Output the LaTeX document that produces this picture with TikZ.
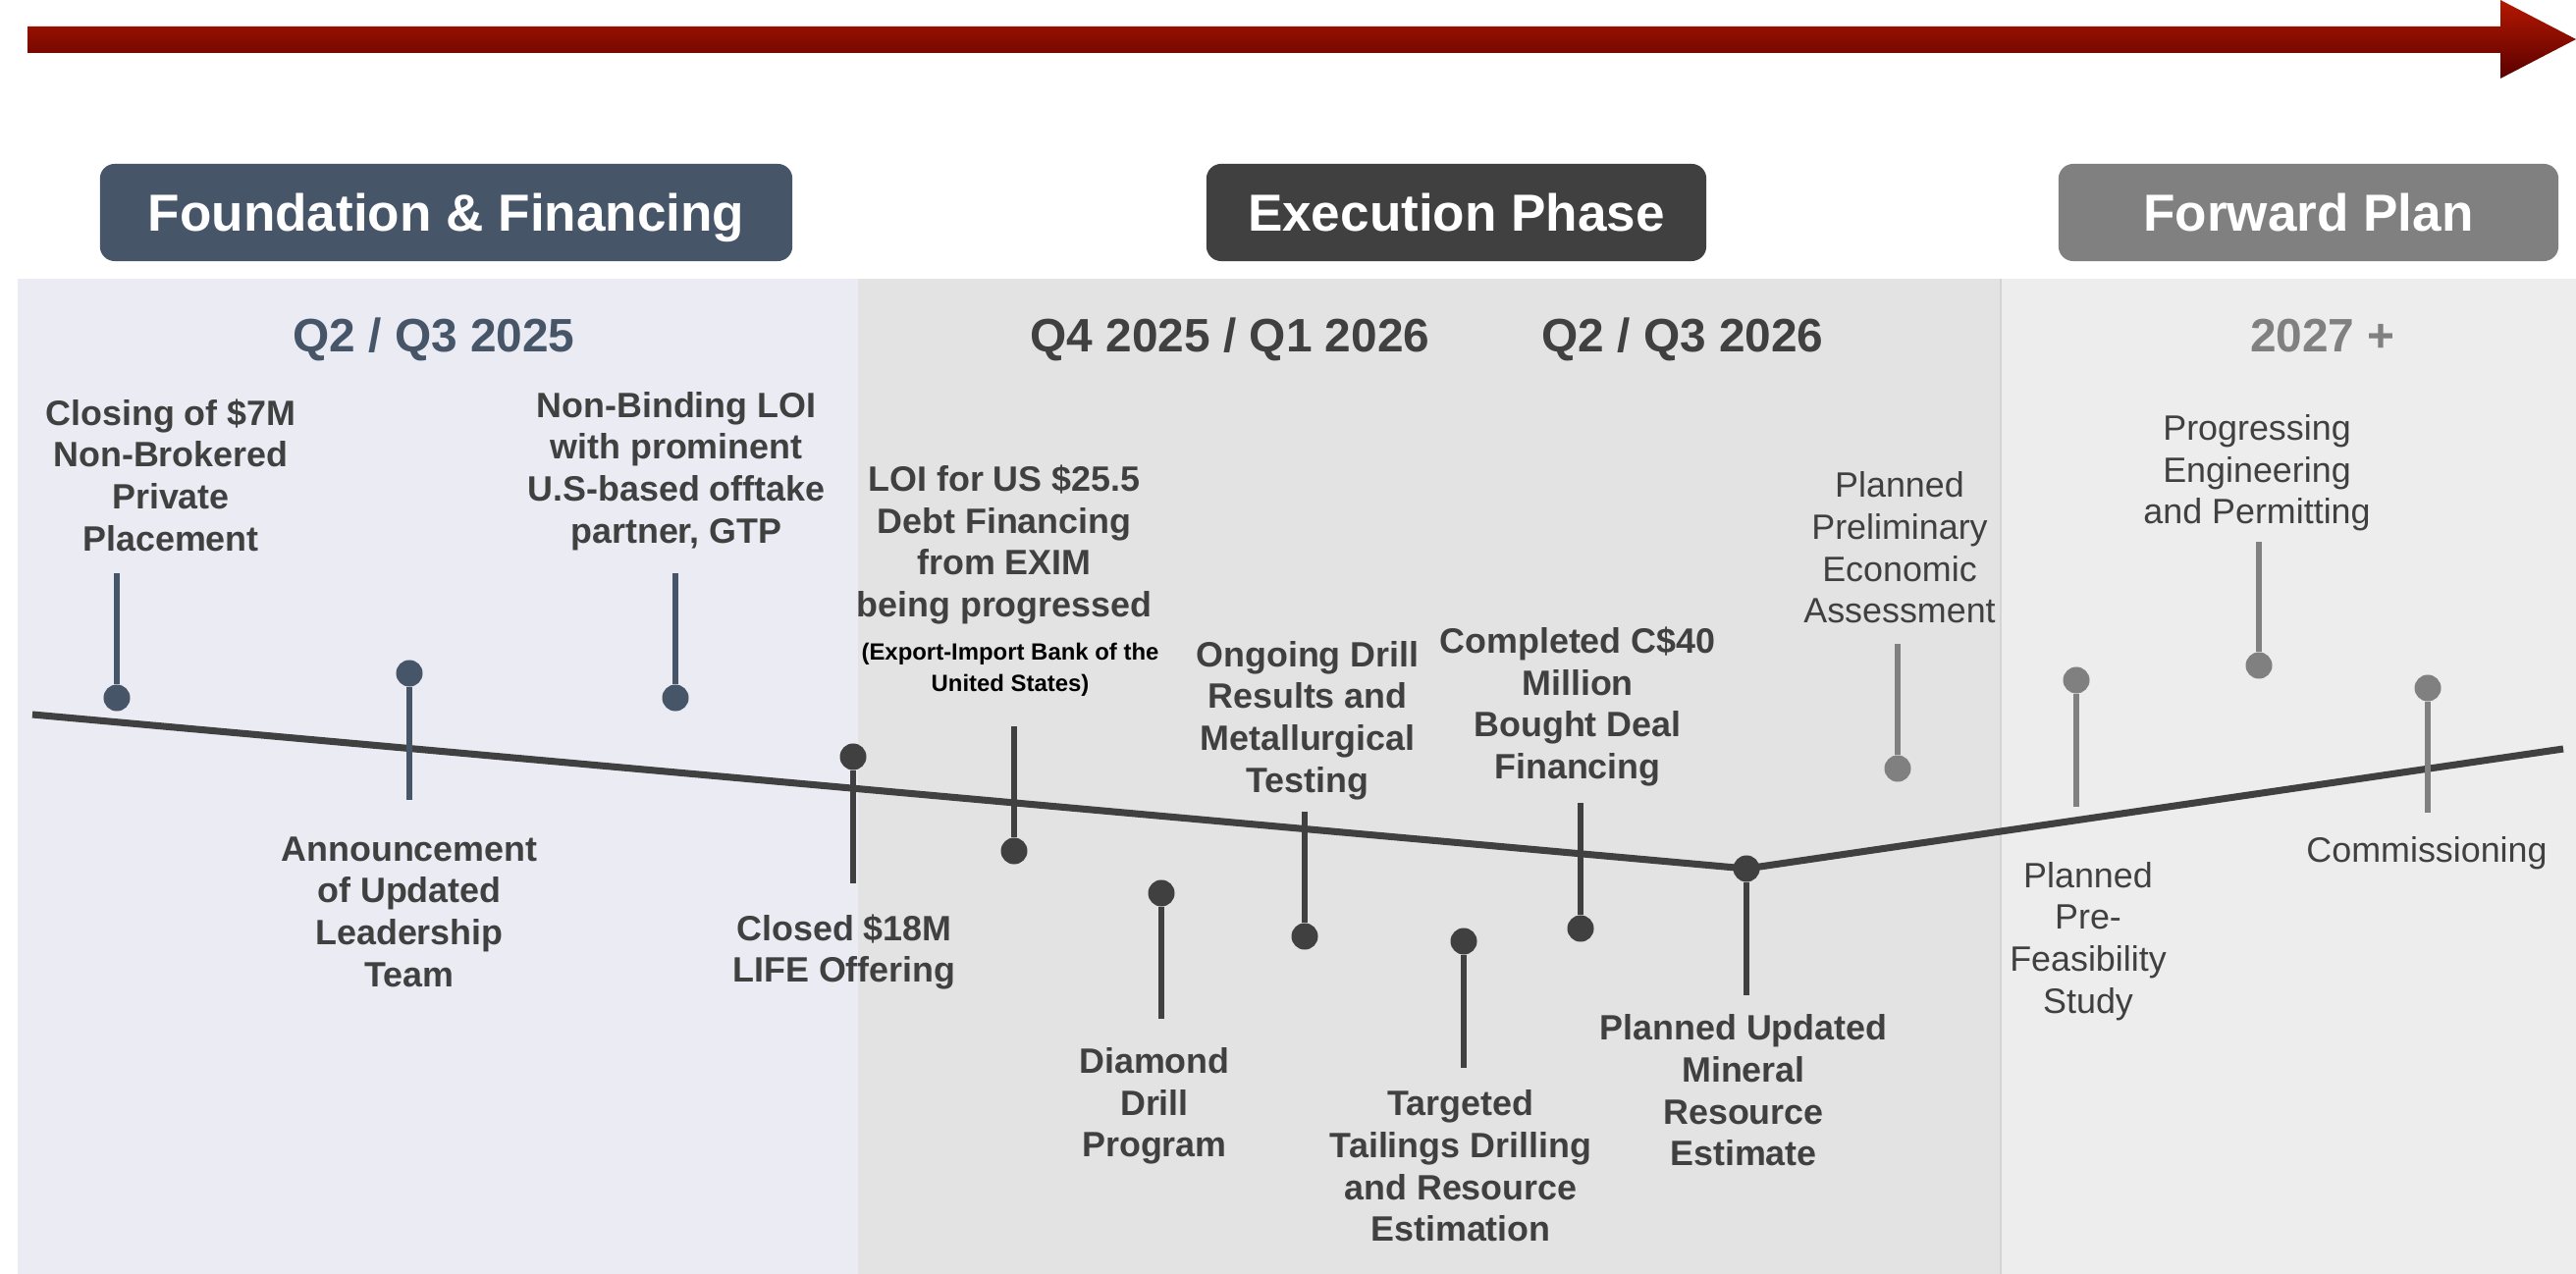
\documentclass[tikz,border=0pt]{standalone}
\usepackage{fontspec}
\setmainfont{Liberation Sans}
\definecolor{slate}{HTML}{475569}
\definecolor{darkgrey}{HTML}{404040}
\definecolor{midgrey}{HTML}{808080}
\definecolor{panelA}{HTML}{EBEBF4}
\definecolor{panelB}{HTML}{E3E3E3}
\definecolor{panelC}{HTML}{EDEDED}
\definecolor{arrowtop}{HTML}{B41800}
\definecolor{arrowbot}{HTML}{5A0000}

\tikzset{
  phase/.style={fill=#1, rounded corners=0.15cm, text=white, minimum height=0.99cm, text height=10.8pt, text depth=0pt, font=\fontsize{15.1}{18}\selectfont\bfseries},
  period/.style={text=#1, text height=9.8pt, text depth=0pt, font=\fontsize{13.6}{16}\selectfont\bfseries},
  evdot/.style={circle, fill=#1, inner sep=0pt, minimum size=0.27cm},
  evstem/.style={draw=#1, line width=1.45pt},
  evtext/.style={align=center, inner sep=0pt, text=darkgrey, font=\fontsize{10.2}{12.15}\selectfont\bfseries},
  evplan/.style={evtext, font=\fontsize{10.2}{12.15}\selectfont},
  evsmall/.style={align=center, inner sep=0pt, text=black, font=\fontsize{6.8}{9.1}\selectfont\bfseries},
}

\begin{document}
\begin{tikzpicture}[x=0.01cm, y=-0.01cm]
    \useasboundingbox (0,0) rectangle (2624,1298);

    \shade[top color=arrowtop, bottom color=arrowbot] (28,27) -- (2547,27) -- (2547,0) -- (2624,40) -- (2547,80) -- (2547,54) -- (28,54) -- cycle;

    \fill[panelA] (18,284) rectangle (874,1298);
    \fill[panelB] (874,284) rectangle (2038,1298);
    \fill[panelC] (2038,284) rectangle (2624,1298);
    \draw[black!17, line width=0.6pt] (2038,284) -- (2038,1298);

    \node[phase=slate, minimum width=7.05cm] (ph_found) at (454.5,216.5) {Foundation \& Financing};
    \node[phase=darkgrey, minimum width=5.09cm] (ph_exec) at (1483.5,216.5) {Execution Phase};
    \node[phase=midgrey, minimum width=5.09cm] (ph_fwd) at (2351.5,216.5) {Forward Plan};

    \node[period=slate] (q_2025) at (442,341) {Q2 / Q3 2025};
    \node[period=darkgrey] (q_2026a) at (1253,341) {Q4 2025 / Q1 2026};
    \node[period=darkgrey] (q_2026b) at (1714,341) {Q2 / Q3 2026};
    \node[period=midgrey] (q_2027) at (2366,341) {2027 +};

    \coordinate (t_start) at (33,728);
    \coordinate (t_turn) at (1779,885);
    \coordinate (t_end) at (2611,763);
    \draw[darkgrey, line width=2pt] (t_start) -- (t_turn) -- (t_end);

    \node[evdot=slate] (d_close) at (119,711) {};
    \node[evdot=slate] (d_lead) at (417,686) {};
    \node[evdot=slate] (d_gtp) at (688,711) {};
    \node[evdot=darkgrey] (d_life) at (869,771) {};
    \node[evdot=darkgrey] (d_exim) at (1033,867) {};
    \node[evdot=darkgrey] (d_drill) at (1183,910) {};
    \node[evdot=darkgrey] (d_met) at (1329,954) {};
    \node[evdot=darkgrey] (d_tail) at (1491,959) {};
    \node[evdot=darkgrey] (d_deal) at (1610,946) {};
    \node[evdot=darkgrey] (d_mre) at (t_turn) {};
    \node[evdot=midgrey] (d_pea) at (1933,783) {};
    \node[evdot=midgrey] (d_pfs) at (2115,693) {};
    \node[evdot=midgrey] (d_eng) at (2301,678) {};
    \node[evdot=midgrey] (d_com) at (2473,701) {};

    \coordinate (s_close) at (119,584);
    \coordinate (s_lead) at (417,815);
    \coordinate (s_gtp) at (688,584);
    \coordinate (s_life) at (869,900);
    \coordinate (s_exim) at (1033,740);
    \coordinate (s_drill) at (1183,1038);
    \coordinate (s_met) at (1329,827);
    \coordinate (s_tail) at (1491,1088);
    \coordinate (s_deal) at (1610,818);
    \coordinate (s_mre) at (1779,1014);
    \coordinate (s_pea) at (1933,656);
    \coordinate (s_pfs) at (2115,822);
    \coordinate (s_eng) at (2301,552);
    \coordinate (s_com) at (2473,828);

    \draw[evstem=slate] (d_close) -- (s_close);
    \draw[evstem=slate] (d_lead) -- (s_lead);
    \draw[evstem=slate] (d_gtp) -- (s_gtp);
    \draw[evstem=darkgrey] (d_life) -- (s_life);
    \draw[evstem=darkgrey] (d_exim) -- (s_exim);
    \draw[evstem=darkgrey] (d_drill) -- (s_drill);
    \draw[evstem=darkgrey] (d_met) -- (s_met);
    \draw[evstem=darkgrey] (d_tail) -- (s_tail);
    \draw[evstem=darkgrey] (d_deal) -- (s_deal);
    \draw[evstem=darkgrey] (d_mre) -- (s_mre);
    \draw[evstem=midgrey] (d_pea) -- (s_pea);
    \draw[evstem=midgrey] (d_pfs) -- (s_pfs);
    \draw[evstem=midgrey] (d_eng) -- (s_eng);
    \draw[evstem=midgrey] (d_com) -- (s_com);

    \node[evtext] (l_close) at (174,484) {Closing of \$7M\\Non-Brokered\\Private\\Placement};
    \node[evtext] (l_lead) at (417,929) {Announcement\\of Updated\\Leadership\\Team};
    \node[evtext] (l_gtp) at (689,480) {Non-Binding LOI\\with prominent\\U.S-based offtake\\partner, GTP};
    \node[evtext] (l_life) at (860,970) {Closed \$18M\\LIFE Offering};
    \node[evtext] (l_exim) at (1023,555) {LOI for US \$25.5\\Debt Financing\\from EXIM\\being progressed};
    \node[evsmall] (l_eximnote) at (1029,682) {(Export-Import Bank of the\\United States)};
    \node[evtext] (l_drill) at (1176,1127) {Diamond\\Drill\\Program};
    \node[evtext] (l_met) at (1332,734) {Ongoing Drill\\Results and\\Metallurgical\\Testing};
    \node[evtext] (l_tail) at (1488,1188) {Targeted\\Tailings Drilling\\and Resource\\Estimation};
    \node[evtext] (l_deal) at (1607,720) {Completed C\$40\\Million\\Bought Deal\\Financing};
    \node[evtext] (l_mre) at (1776,1111) {Planned Updated\\Mineral\\Resource\\Estimate};
    \node[evplan] (l_pea) at (1935,558) {Planned\\Preliminary\\Economic\\Assessment};
    \node[evplan] (l_pfs) at (2127,959) {Planned\\Pre-\\Feasibility\\Study};
    \node[evplan] (l_eng) at (2299,482) {Progressing\\Engineering\\and Permitting};
    \node[evplan] (l_com) at (2472,869) {Commissioning};
\end{tikzpicture}
\end{document}
